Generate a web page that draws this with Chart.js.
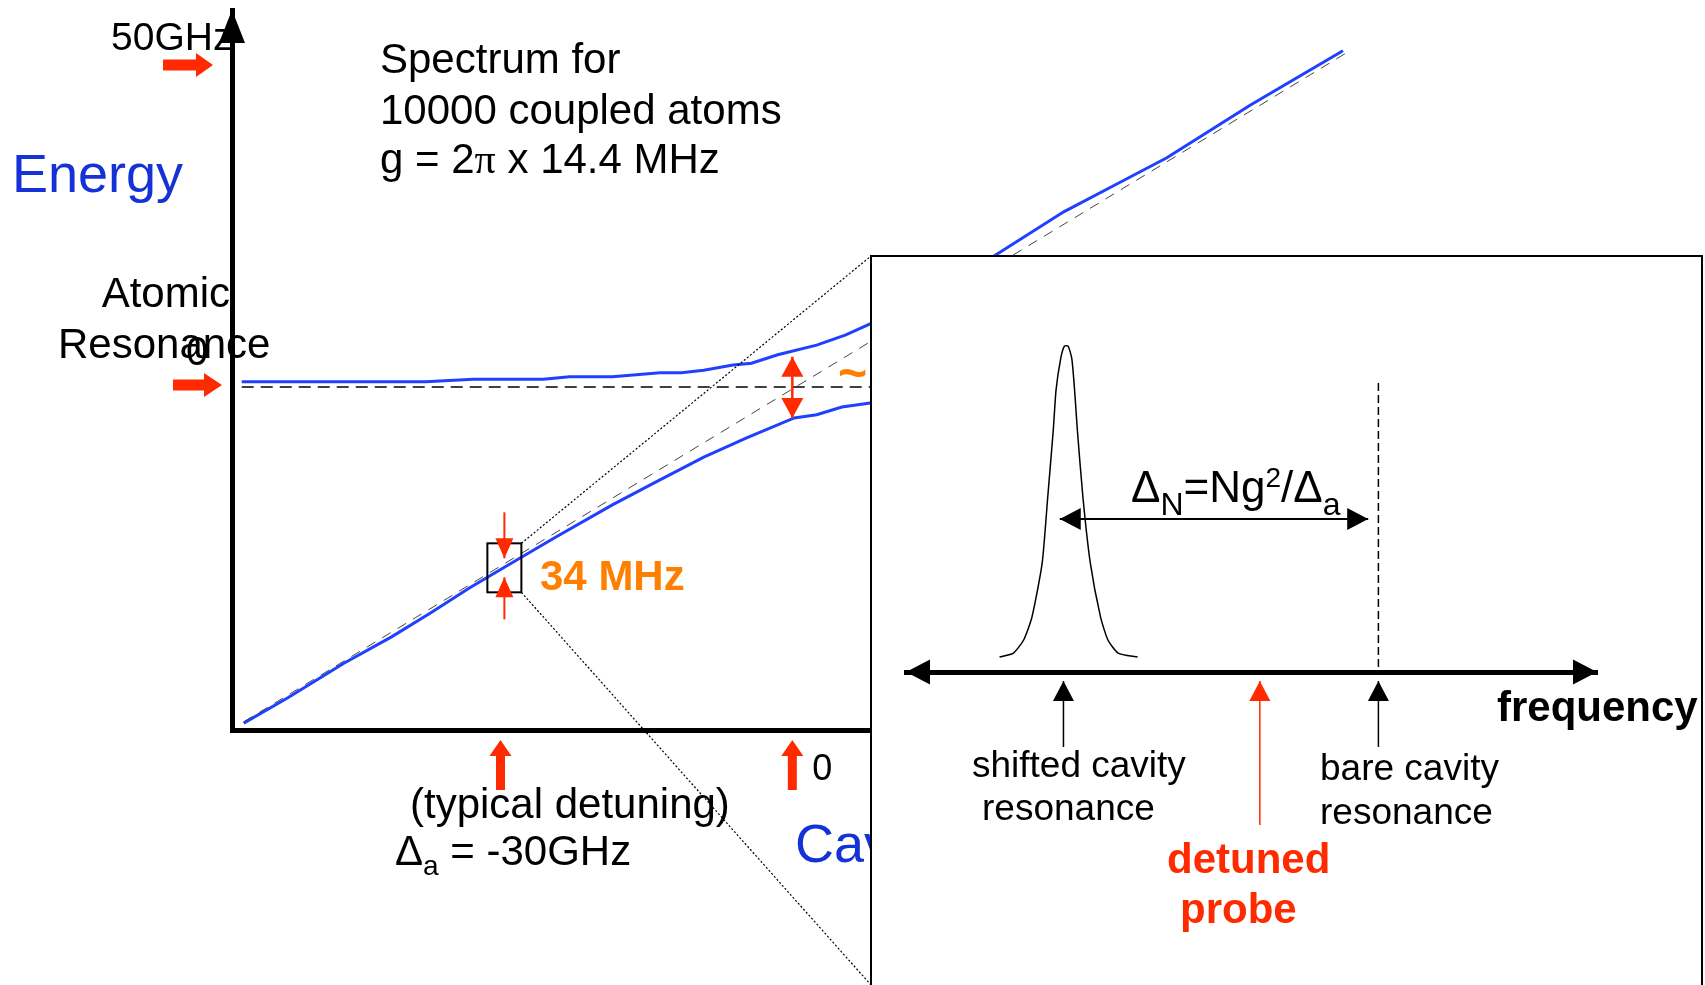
<!DOCTYPE html>
<html>
<head>
<meta charset="utf-8">
<title>Spectrum for 10000 coupled atoms</title>
<script src="https://cdn.jsdelivr.net/npm/chart.js@4.4.1/dist/chart.umd.min.js"></script>
<style>
  html, body { margin: 0; padding: 0; background: #fff; }
  #wrap { position: relative; width: 1705px; height: 985px; overflow: hidden; }
  #energy { position: absolute; left: 0; top: 0; }
  #inset { position: absolute; left: 870px; top: 255px; width: 829px; height: 740px;
           border: 2px solid #000; border-bottom: none; background: #fff; }
  #spectrum { position: absolute; left: 0; top: 0; }
</style>
</head>
<body>
<div id="wrap">
  <canvas id="energy" width="1705" height="985"></canvas>
  <div id="inset"><canvas id="spectrum" width="829" height="728"></canvas></div>
</div>
<script>
// dressed-state energies (GHz) against cavity detuning (GHz)
const upperDetuning = [-56.6, -37.7, -32.8, -25.6, -22.9, -18.5, -13.6, -11.4, -9.1, -6.1, -4.2, -1.5, 2.5, 5.5, 8.0, 20.7, 27.9, 33.7, 38.5, 47.1, 56.6];
const upperEnergy   = [0.8, 0.8, 1.2, 1.2, 1.6, 1.6, 2.2, 2.2, 2.6, 3.4, 3.7, 5.0, 6.5, 8.1, 9.8, 20.3, 27.2, 31.8, 35.6, 43.8, 52.2];
const lowerDetuning = [-56.4, -51.9, -46.1, -41.2, -37.2, -33.2, -29.6, -24.3, -18.5, -14.1, -9.1, -4.7, 0.2, 2.5, 5.1, 8.0, 9.5];
const lowerEnergy   = [-52.2, -48.3, -42.9, -38.8, -35.1, -31.2, -28.0, -23.3, -18.3, -14.8, -10.9, -7.9, -4.8, -4.3, -3.1, -2.5, -2.3];
// bare cavity and bare atom levels
const cavityDetuning = [-56.4, 57.3];
const cavityEnergy   = [-52.0, 52.2];
const atomDetuning   = [-56.6, 9.5];
const atomEnergy     = [0, 0];
// tick marks on the two axes
const energyTicks = [50, 0];
const energyTickLabels = ['50GHz', '0'];
const detuningTicks = [-30, 0];
const detuningTickLabels = ['', '0'];
// splitting at zero detuning, and the zoomed point at typical detuning
const rabiSplit = [4.7, -4.8];
const zoomPoint = { x: -29.6, y: -28.0 };

// inset: transmission peak (MHz from the bare cavity, normalised height)
const peakFreq = [-40.9, -39.4, -38.3, -37.4, -36.3, -35.7, -35.1, -34.8, -34.3, -33.9, -33.5, -33.1, -32.8, -32.5, -31.9, -31.1, -30.0, -29.2, -28.1, -26.0];
const peakAmp  = [0, 0.013, 0.055, 0.129, 0.302, 0.514, 0.730, 0.859, 0.960, 1.0, 1.0, 0.960, 0.859, 0.730, 0.514, 0.302, 0.129, 0.055, 0.013, 0];
const shiftedCavity = -34.0;
const probeFreq = -12.8;
const bareCavity = 0;
const shiftArrow = [-34.4, -1.1];

const RED = '#ff2a00';
const ORANGE = '#ff8000';
const BLUE_TEXT = '#1432d6';
const LINE_BLUE = '#2040ff';
const SANS = '"Liberation Sans", Arial, sans-serif';
const SERIF = '"Liberation Serif", "Times New Roman", serif';

function zip(xs, ys) {
  return xs.map((x, i) => ({ x: x, y: ys[i] }));
}

function text(ctx, str, x, y, size, color, weight, align, family) {
  ctx.font = (weight || 'normal') + ' ' + size + 'px ' + (family || SANS);
  ctx.fillStyle = color || '#000';
  ctx.textAlign = align || 'left';
  ctx.textBaseline = 'alphabetic';
  ctx.fillText(str, x, y);
  return ctx.measureText(str).width;
}

// thick arrow with a triangular head, tail (x0,y0) -> tip (x1,y1)
function blockArrow(ctx, x0, y0, x1, y1, shaft, headLen, headW, color) {
  const len = Math.hypot(x1 - x0, y1 - y0);
  ctx.save();
  ctx.translate(x0, y0);
  ctx.rotate(Math.atan2(y1 - y0, x1 - x0));
  ctx.fillStyle = color;
  ctx.beginPath();
  ctx.moveTo(0, -shaft / 2);
  ctx.lineTo(len - headLen, -shaft / 2);
  ctx.lineTo(len - headLen, -headW / 2);
  ctx.lineTo(len, 0);
  ctx.lineTo(len - headLen, headW / 2);
  ctx.lineTo(len - headLen, shaft / 2);
  ctx.lineTo(0, shaft / 2);
  ctx.closePath();
  ctx.fill();
  ctx.restore();
}

function head(ctx, tx, ty, fx, fy, headLen, headW, color) {
  const a = Math.atan2(ty - fy, tx - fx);
  ctx.save();
  ctx.translate(tx, ty);
  ctx.rotate(a);
  ctx.fillStyle = color;
  ctx.beginPath();
  ctx.moveTo(0, 0);
  ctx.lineTo(-headLen, -headW / 2);
  ctx.lineTo(-headLen, headW / 2);
  ctx.closePath();
  ctx.fill();
  ctx.restore();
}

// thin line arrow; both = heads at both ends
function lineArrow(ctx, x0, y0, x1, y1, width, headLen, headW, color, both) {
  ctx.save();
  ctx.strokeStyle = color;
  ctx.lineWidth = width;
  ctx.setLineDash([]);
  ctx.beginPath();
  ctx.moveTo(x0, y0);
  ctx.lineTo(x1, y1);
  ctx.stroke();
  ctx.restore();
  head(ctx, x1, y1, x0, y0, headLen, headW, color);
  if (both) head(ctx, x0, y0, x1, y1, headLen, headW, color);
}

const energyDecor = {
  id: 'energyDecor',
  beforeDraw(chart) {
    const ctx = chart.ctx, ys = chart.scales.y;
    ctx.save();
    text(ctx, energyTickLabels[0], 111, ys.getPixelForValue(energyTicks[0]) - 15, 39);
    text(ctx, 'Atomic', 230, 307, 42, '#000', 'normal', 'right');
    text(ctx, 'Resonance', 58, 358, 42);
    text(ctx, energyTickLabels[1], 186, ys.getPixelForValue(energyTicks[1]) - 22, 40);
    text(ctx, 'Energy', 12, 192, 54, BLUE_TEXT);
    text(ctx, 'Spectrum for', 380, 73, 42);
    text(ctx, '10000 coupled atoms', 380, 124, 42);
    let x = 380;
    x += text(ctx, 'g = 2', x, 173, 42);
    x += text(ctx, 'π', x, 173, 42, '#000', 'normal', 'left', SERIF);
    text(ctx, ' x 14.4 MHz', x, 173, 42);
    ctx.restore();
  },
  afterDraw(chart) {
    const ctx = chart.ctx, xs = chart.scales.x, ys = chart.scales.y, a = chart.chartArea;
    ctx.save();

    // energy axis arrowhead
    ctx.fillStyle = '#000';
    ctx.beginPath();
    ctx.moveTo(a.left, a.top);
    ctx.lineTo(a.left - 13, a.top + 33);
    ctx.lineTo(a.left + 13, a.top + 33);
    ctx.closePath();
    ctx.fill();

    // red markers on the energy axis
    const y50 = ys.getPixelForValue(energyTicks[0]);
    const y0 = ys.getPixelForValue(energyTicks[1]) - 2;
    blockArrow(ctx, 163, y50, 213, y50, 11, 17, 24, RED);
    blockArrow(ctx, 173, y0, 222, y0, 11, 18, 24, RED);

    // red markers on the detuning axis
    detuningTicks.forEach((d, i) => {
      const px = xs.getPixelForValue(d);
      blockArrow(ctx, px, a.bottom + 60, px, a.bottom + 10, 9, 16, 22, RED);
      if (detuningTickLabels[i]) text(ctx, detuningTickLabels[i], px + 20, 780, 36);
    });
    text(ctx, '(typical detuning)', 410, 818, 42);
    let x = 395;
    x += text(ctx, 'Δ', x, 865, 42);
    x += text(ctx, 'a', x, 875, 28);
    text(ctx, ' = -30GHz', x, 865, 42);
    text(ctx, 'Cavity', 795, 862, 54, BLUE_TEXT);

    // zoom box at typical detuning
    const bx = xs.getPixelForValue(zoomPoint.x), by = ys.getPixelForValue(zoomPoint.y);
    ctx.strokeStyle = '#000';
    ctx.lineWidth = 2;
    ctx.strokeRect(bx - 17, by - 24, 34, 49);
    lineArrow(ctx, bx, by - 55, bx, by - 9, 2, 20, 18, RED);
    lineArrow(ctx, bx, by + 52, bx, by + 10, 2, 20, 18, RED);
    text(ctx, '34 MHz', 540, 590, 42, ORANGE, 'bold');

    // vacuum Rabi splitting at zero detuning
    const sx = xs.getPixelForValue(0);
    lineArrow(ctx, sx, ys.getPixelForValue(rabiSplit[0]), sx, ys.getPixelForValue(rabiSplit[1]), 2.5, 20, 22, RED, true);
    text(ctx, '~', 838, 390, 50, ORANGE, 'bold');

    // dotted guides from the box to the inset
    ctx.strokeStyle = '#000';
    ctx.lineWidth = 1.2;
    ctx.setLineDash([2, 2]);
    ctx.beginPath();
    ctx.moveTo(bx + 17, by - 24);
    ctx.lineTo(871, 256);
    ctx.moveTo(bx + 17, by + 25);
    ctx.lineTo(871, 985);
    ctx.stroke();
    ctx.restore();
  }
};

new Chart(document.getElementById('energy'), {
  type: 'scatter',
  data: {
    datasets: [
      { label: 'bare cavity', data: zip(cavityDetuning, cavityEnergy), showLine: true,
        borderColor: '#444', borderWidth: 1, borderDash: [10, 8], pointRadius: 0 },
      { label: 'atomic resonance', data: zip(atomDetuning, atomEnergy), showLine: true,
        borderColor: '#000', borderWidth: 1.3, borderDash: [12, 7], pointRadius: 0 },
      { label: 'upper branch', data: zip(upperDetuning, upperEnergy), showLine: true,
        borderColor: LINE_BLUE, borderWidth: 3, pointRadius: 0 },
      { label: 'lower branch', data: zip(lowerDetuning, lowerEnergy), showLine: true,
        borderColor: LINE_BLUE, borderWidth: 3, pointRadius: 0 }
    ]
  },
  options: {
    responsive: false,
    animation: false,
    devicePixelRatio: 1,
    layout: { autoPadding: false, padding: { left: 232, top: 10, right: 1705 - 1376, bottom: 985 - 730 } },
    plugins: { legend: { display: false }, tooltip: { enabled: false } },
    scales: {
      x: { type: 'linear', min: -57.6, max: 60,
           grid: { display: false, drawTicks: false }, ticks: { display: false },
           border: { display: true, color: '#000', width: 5 },
           afterFit: s => { s.height = 0; } },
      y: { type: 'linear', min: -53.26, max: 58.54,
           grid: { display: false, drawTicks: false }, ticks: { display: false },
           border: { display: true, color: '#000', width: 5 },
           afterFit: s => { s.width = 0; } }
    }
  },
  plugins: [energyDecor]
});

const spectrumDecor = {
  id: 'spectrumDecor',
  afterDraw(chart) {
    const ctx = chart.ctx, xs = chart.scales.x, ys = chart.scales.y, a = chart.chartArea;
    const axisY = a.bottom;
    ctx.save();

    // frequency axis arrowheads
    head(ctx, a.left, axisY, a.left + 30, axisY, 24, 25, '#000');
    head(ctx, a.right, axisY, a.right - 30, axisY, 24, 25, '#000');

    // bare cavity line
    const bx = xs.getPixelForValue(bareCavity);
    ctx.strokeStyle = '#000';
    ctx.lineWidth = 1.5;
    ctx.setLineDash([8, 4]);
    ctx.beginPath();
    ctx.moveTo(bx, ys.getPixelForValue(0.881));
    ctx.lineTo(bx, axisY);
    ctx.stroke();
    ctx.setLineDash([]);

    // collective shift arrow and formula
    const sy = ys.getPixelForValue(0.444);
    lineArrow(ctx, xs.getPixelForValue(shiftArrow[0]), sy, xs.getPixelForValue(shiftArrow[1]), sy, 2, 21, 22, '#000', true);
    const fy = 245;
    let x = 259;
    x += text(ctx, 'Δ', x, fy, 44);
    x += text(ctx, 'N', x, fy + 13, 32);
    x += text(ctx, '=Ng', x, fy, 44);
    x += text(ctx, '2', x, fy - 15, 28);
    x += text(ctx, '/', x, fy, 44);
    x += text(ctx, 'Δ', x, fy, 44);
    text(ctx, 'a', x, fy + 13, 32);

    // markers below the axis
    [[shiftedCavity, '#000', 490], [probeFreq, RED, 568], [bareCavity, '#000', 490]].forEach(m => {
      const px = xs.getPixelForValue(m[0]);
      lineArrow(ctx, px, m[2], px, axisY + 9, 1.5, 20, 21, m[1]);
    });
    text(ctx, 'shifted cavity', 100, 520, 37);
    text(ctx, 'resonance', 110, 563, 37);
    text(ctx, 'bare cavity', 448, 523, 37);
    text(ctx, 'resonance', 448, 567, 37);
    text(ctx, 'detuned', 295, 616, 42, RED, 'bold');
    text(ctx, 'probe', 308, 666, 42, RED, 'bold');
    text(ctx, 'frequency', 625, 464, 42, '#000', 'bold');
    ctx.restore();
  }
};

new Chart(document.getElementById('spectrum'), {
  type: 'scatter',
  data: {
    datasets: [
      { label: 'shifted cavity', data: zip(peakFreq, peakAmp), showLine: true, tension: 0.2,
        borderColor: '#000', borderWidth: 1.5, pointRadius: 0, clip: false }
    ]
  },
  options: {
    responsive: false,
    animation: false,
    devicePixelRatio: 1,
    layout: { autoPadding: false, padding: { left: 34, top: 58, right: 104, bottom: 313 } },
    plugins: { legend: { display: false }, tooltip: { enabled: false } },
    scales: {
      x: { type: 'linear', min: -51, max: 23.6,
           grid: { display: false, drawTicks: false }, ticks: { display: false },
           border: { display: true, color: '#000', width: 5 },
           afterFit: s => { s.height = 0; } },
      y: { type: 'linear', min: -0.048, max: 1.1, display: false }
    }
  },
  plugins: [spectrumDecor]
});
</script>
</body>
</html>
